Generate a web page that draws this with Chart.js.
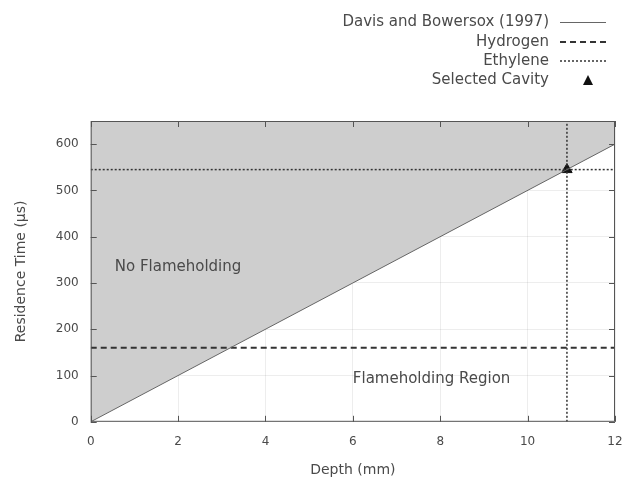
<!DOCTYPE html>
<html>
<head>
<meta charset="utf-8">
<script src="https://cdn.jsdelivr.net/npm/chart.js@4/dist/chart.umd.min.js"></script>
<style>
  html, body { margin: 0; padding: 0; background: #fff; }
  #wrap { width: 627px; height: 479px; }
</style>
</head>
<body>
<div id="wrap"><canvas id="chart" width="627" height="479"></canvas></div>
<script>
// data
const davisDepth = [0, 12];
const davisTime = [0, 600];
const hydrogenTime = 160;
const ethyleneTime = 545;
const cavityDepth = 10.9;
const cavityTime = 545;
const xTicks = [0, 2, 4, 6, 8, 10, 12];
const yTicks = [0, 100, 200, 300, 400, 500, 600];
const legendLabels = ['Davis and Bowersox (1997)', 'Hydrogen', 'Ethylene', 'Selected Cavity'];
const regionLabels = [
  { text: 'No Flameholding', x: 0.55, y: 335 },
  { text: 'Flameholding Region', x: 6.0, y: 92 }
];

const FONT = '"DejaVu Sans", Verdana, sans-serif';
const TXT = '#4a4a4a';
const AXIS = '#555';

// inner tick marks on all four sides + region labels + legend
const extras = {
  id: 'extras',
  afterDatasetsDraw(chart) {
    const { ctx, chartArea: a, scales: { x, y } } = chart;
    ctx.save();
    ctx.strokeStyle = AXIS;
    ctx.lineWidth = 1;
    ctx.beginPath();
    xTicks.forEach(v => {
      const px = Math.round(x.getPixelForValue(v)) + 0.5;
      ctx.moveTo(px, a.bottom); ctx.lineTo(px, a.bottom - 6);
      ctx.moveTo(px, a.top); ctx.lineTo(px, a.top + 6);
    });
    yTicks.forEach(v => {
      const py = Math.round(y.getPixelForValue(v)) + 0.5;
      ctx.moveTo(a.left, py); ctx.lineTo(a.left + 6, py);
      ctx.moveTo(a.right, py); ctx.lineTo(a.right - 6, py);
    });
    ctx.stroke();
    ctx.strokeRect(a.left + 0.5, a.top + 0.5, a.right - a.left - 1, a.bottom - a.top - 1);

    ctx.fillStyle = TXT;
    ctx.font = '15px ' + FONT;
    ctx.textBaseline = 'middle';
    ctx.textAlign = 'left';
    regionLabels.forEach(r => {
      ctx.fillText(r.text, x.getPixelForValue(r.x), y.getPixelForValue(r.y));
    });

    // legend: text right aligned, sample on the right
    const textRight = 549, s0 = 560, s1 = 606;
    const rows = [22, 42, 61, 80];
    ctx.font = '15px ' + FONT;
    ctx.textAlign = 'right';
    legendLabels.forEach((t, i) => ctx.fillText(t, textRight, rows[i]));
    ctx.strokeStyle = '#666';
    ctx.lineWidth = 1;
    ctx.beginPath(); ctx.moveTo(s0, rows[0] + 0.5); ctx.lineTo(s1, rows[0] + 0.5); ctx.stroke();
    ctx.strokeStyle = '#333';
    ctx.lineWidth = 2;
    ctx.setLineDash([6, 4]);
    ctx.beginPath(); ctx.moveTo(s0, rows[1]); ctx.lineTo(s1, rows[1]); ctx.stroke();
    ctx.lineWidth = 1.5;
    ctx.setLineDash([2, 2]);
    ctx.beginPath(); ctx.moveTo(s0, rows[2]); ctx.lineTo(s1, rows[2]); ctx.stroke();
    ctx.setLineDash([]);
    ctx.fillStyle = '#111';
    ctx.beginPath();
    ctx.moveTo(583, rows[3] + 5); ctx.lineTo(593, rows[3] + 5); ctx.lineTo(588, rows[3] - 5);
    ctx.closePath(); ctx.fill();
    ctx.restore();
  }
};

new Chart(document.getElementById('chart'), {
  type: 'scatter',
  data: {
    datasets: [
      {
        label: legendLabels[0],
        data: davisDepth.map((d, i) => ({ x: d, y: davisTime[i] })),
        showLine: true,
        borderColor: '#666',
        borderWidth: 1,
        pointRadius: 0,
        fill: 'end',
        backgroundColor: 'rgb(206,206,206)'
      },
      {
        label: legendLabels[1],
        data: [{ x: 0, y: hydrogenTime }, { x: 12, y: hydrogenTime }],
        showLine: true,
        borderColor: '#333',
        borderWidth: 2,
        borderDash: [6, 4],
        pointRadius: 0
      },
      {
        label: legendLabels[2],
        data: [{ x: 0, y: ethyleneTime }, { x: 12, y: ethyleneTime }],
        showLine: true,
        borderColor: '#333',
        borderWidth: 1.5,
        borderDash: [2, 2],
        pointRadius: 0
      },
      {
        label: 'cavity depth',
        data: [{ x: cavityDepth, y: 0 }, { x: cavityDepth, y: 650 }],
        showLine: true,
        borderColor: '#333',
        borderWidth: 1.5,
        borderDash: [2, 2],
        pointRadius: 0
      },
      {
        label: legendLabels[3],
        data: [{ x: cavityDepth, y: cavityTime }],
        pointStyle: 'triangle',
        pointRadius: 6,
        backgroundColor: '#111',
        borderColor: '#111'
      }
    ]
  },
  options: {
    responsive: false,
    animation: false,
    layout: { padding: { top: 121, right: 12, left: 9, bottom: 0 } },
    plugins: {
      legend: { display: false },
      tooltip: { enabled: false },
      filler: { drawTime: 'beforeDatasetsDraw' }
    },
    scales: {
      x: {
        type: 'linear',
        min: 0, max: 12,
        afterBuildTicks: s => { s.ticks = xTicks.map(v => ({ value: v })); },
        afterFit: s => { s.paddingRight = 0; },
        grid: { color: 'rgba(0,0,0,0.07)', drawTicks: false },
        border: { display: false },
        ticks: { color: TXT, font: { family: FONT, size: 12 }, padding: 13, maxRotation: 0 },
        title: { display: true, text: 'Depth (mm)', color: TXT, font: { family: FONT, size: 14 }, padding: { top: 0, bottom: 0 } }
      },
      y: {
        min: 0, max: 650,
        afterBuildTicks: s => { s.ticks = yTicks.map(v => ({ value: v })); },
        grid: { color: 'rgba(0,0,0,0.07)', drawTicks: false },
        border: { display: false },
        ticks: { color: TXT, font: { family: FONT, size: 12 }, padding: 12 },
        title: { display: true, text: 'Residence Time (μs)', color: TXT, font: { family: FONT, size: 14 }, padding: { bottom: 14 } }
      }
    }
  },
  plugins: [extras]
});
</script>
</body>
</html>
